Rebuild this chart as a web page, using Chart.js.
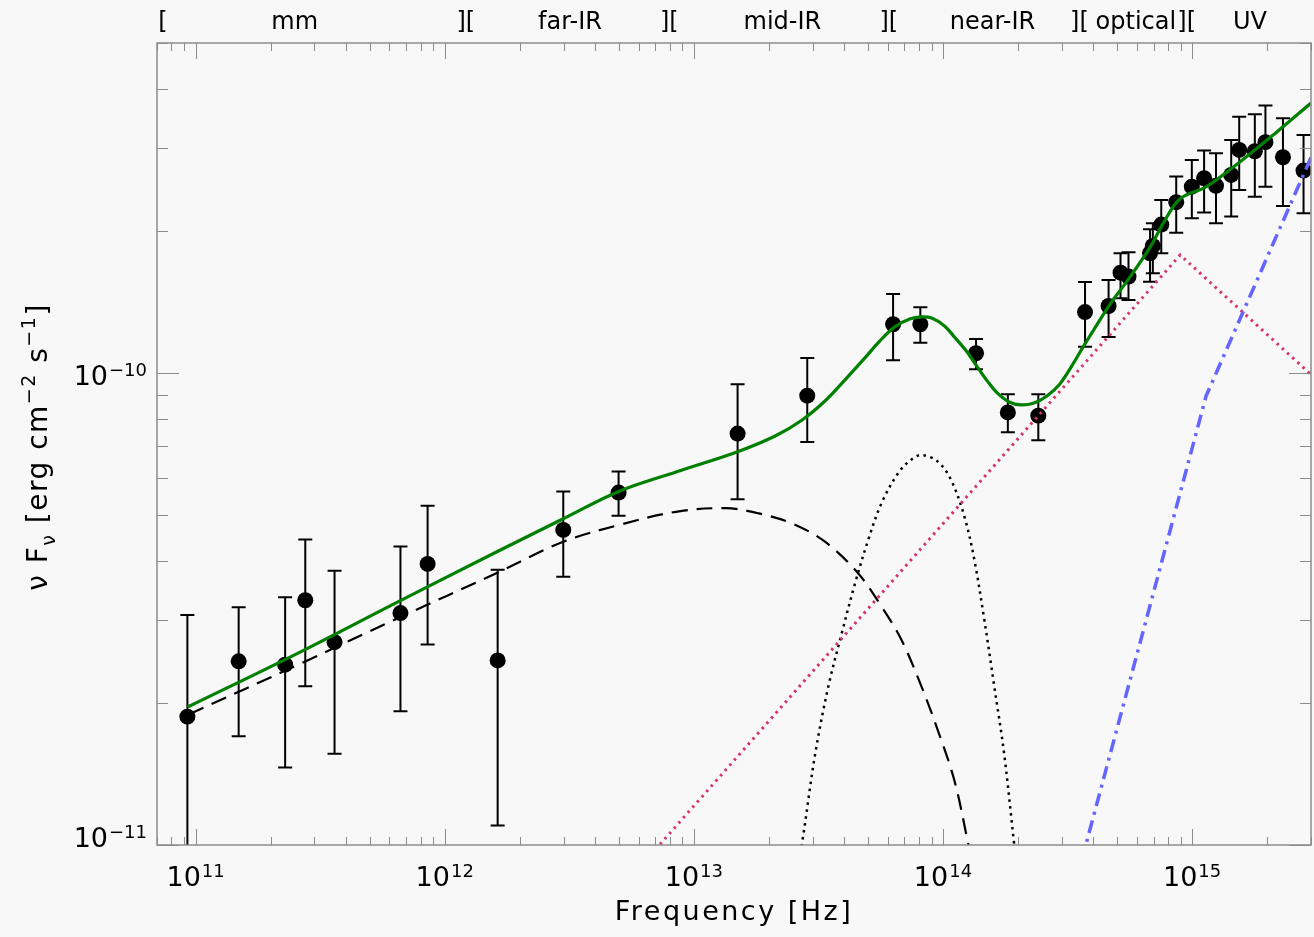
<!DOCTYPE html>
<html>
<head>
<meta charset="utf-8">
<script src="https://cdn.jsdelivr.net/npm/chart.js@4.4.1/dist/chart.umd.min.js"></script>
<style>
  html, body { margin:0; padding:0; background:#f8f8f8; }
  #wrap { width:1314px; height:937px; overflow:hidden; position:relative; }
  canvas { display:block; }
</style>
</head>
<body>
<div id="wrap"><canvas id="sed" width="1319" height="937"></canvas></div>
<script>
// ---------------- data ----------------

// observed SED points
const freq = [9.27e10, 1.489e11, 2.288e11, 2.756e11, 3.612e11, 6.642e11, 8.537e11, 1.631e12,
  2.991e12, 4.987e12, 1.498e13, 2.852e13, 6.305e13, 8.110e13, 1.357e14, 1.821e14, 2.413e14,
  3.716e14, 4.620e14, 5.159e14, 5.553e14, 6.777e14, 6.955e14, 7.518e14, 8.632e14, 9.972e14,
  1.117e15, 1.247e15, 1.435e15, 1.545e15, 1.785e15, 1.969e15, 2.315e15, 2.800e15];
const flux = [1.87e-11, 2.45e-11, 2.41e-11, 3.30e-11, 2.69e-11, 3.10e-11, 3.94e-11, 2.46e-11,
  4.65e-11, 5.58e-11, 7.44e-11, 8.95e-11, 1.268e-10, 1.268e-10, 1.101e-10, 8.25e-11, 8.12e-11,
  1.346e-10, 1.386e-10, 1.631e-10, 1.600e-10, 1.793e-10, 1.858e-10, 2.062e-10, 2.300e-10, 2.481e-10,
  2.585e-10, 2.492e-10, 2.627e-10, 2.968e-10, 2.949e-10, 3.082e-10, 2.864e-10, 2.683e-10];
const fluxHi = [3.07e-11, 3.19e-11, 3.35e-11, 4.44e-11, 3.81e-11, 4.29e-11, 5.23e-11, 3.83e-11,
  5.61e-11, 6.18e-11, 9.46e-11, 1.076e-10, 1.47e-10, 1.378e-10, 1.180e-10, 9.01e-11, 9.01e-11,
  1.559e-10, 1.574e-10, 1.793e-10, 1.802e-10, 2.016e-10, 2.076e-10, 2.326e-10, 2.606e-10, 2.827e-10,
  2.958e-10, 2.921e-10, 3.116e-10, 3.491e-10, 3.533e-10, 3.684e-10, 3.464e-10, 3.193e-10];
const fluxLo = [6.0e-12, 1.70e-11, 1.46e-11, 2.17e-11, 1.56e-11, 1.92e-11, 2.66e-11, 1.10e-11,
  3.70e-11, 4.98e-11, 5.40e-11, 7.14e-11, 1.064e-10, 1.159e-10, 1.018e-10, 7.49e-11, 7.20e-11,
  1.137e-10, 1.192e-10, 1.440e-10, 1.428e-10, 1.561e-10, 1.626e-10, 1.793e-10, 1.982e-10, 2.128e-10,
  2.186e-10, 2.076e-10, 2.144e-10, 2.442e-10, 2.363e-10, 2.481e-10, 2.259e-10, 2.179e-10];

// total model (green)
const modelFreq = [9.29e10, 2.58e11, 6.46e11, 1.62e12, 2.99e12, 4.99e12, 8.48e12, 1.50e13, 2.13e13,
  2.72e13, 3.36e13, 4.044e13, 4.86e13, 5.58e13, 6.40e13, 7.35e13, 8.21e13, 9.00e13, 1.014e14, 1.111e14,
  1.241e14, 1.373e14, 1.505e14, 1.651e14, 1.843e14, 2.058e14, 2.319e14, 2.614e14, 2.945e14, 3.289e14,
  3.672e14, 4.025e14, 4.707e14, 5.452e14, 6.797e14, 7.659e14, 8.930e14, 1.141e15, 1.555e15, 2.165e15, 3.0e15];
const modelFlux = [1.96e-11, 2.55e-11, 3.27e-11, 4.18e-11, 4.91e-11, 5.61e-11, 6.17e-11, 6.81e-11, 7.36e-11,
  7.95e-11, 8.72e-11, 9.67e-11, 1.076e-10, 1.169e-10, 1.252e-10, 1.301e-10, 1.314e-10, 1.307e-10, 1.258e-10, 1.192e-10,
  1.113e-10, 1.030e-10, 9.62e-11, 9.07e-11, 8.68e-11, 8.56e-11, 8.64e-11, 8.94e-11, 9.48e-11, 1.035e-10,
  1.141e-10, 1.233e-10, 1.404e-10, 1.559e-10, 1.849e-10, 2.076e-10, 2.337e-10, 2.481e-10, 2.799e-10, 3.225e-10, 3.73e-10];

// black dashed component
const dustFreq = [9.38e10, 2.58e11, 6.46e11, 1.62e12, 2.99e12, 4.99e12, 8.48e12, 1.342e13, 1.823e13, 2.477e13,
  3.36e13, 4.570e13, 5.667e13, 6.809e13, 8.185e13, 9.533e13, 1.111e14, 1.256e14, 1.288e14];
const dustFlux = [1.89e-11, 2.41e-11, 3.02e-11, 3.77e-11, 4.39e-11, 4.76e-11, 5.08e-11, 5.17e-11, 5.04e-11, 4.80e-11,
  4.39e-11, 3.76e-11, 3.20e-11, 2.72e-11, 2.17e-11, 1.75e-11, 1.37e-11, 1.02e-11, 9.52e-12];

// black dotted bump
const bumpFreq = [2.626e13, 2.717e13, 3.069e13, 3.468e13, 3.924e13, 4.434e13, 5.011e13, 5.667e13, 6.601e13, 7.419e13,
  8.209e13, 9.533e13, 1.078e14, 1.219e14, 1.336e14, 1.465e14, 1.606e14, 1.760e14, 1.929e14, 1.965e14];
const bumpFlux = [9.29e-12, 1.008e-11, 1.56e-11, 2.17e-11, 2.81e-11, 3.58e-11, 4.43e-11, 5.30e-11, 6.13e-11, 6.54e-11,
  6.70e-11, 6.49e-11, 5.93e-11, 4.96e-11, 4.02e-11, 3.00e-11, 2.17e-11, 1.56e-11, 1.008e-11, 9.29e-12];

// red dotted broken power law
const plFreq = [6.432e12, 8.955e14, 3.0e15];
const plFlux = [9.29e-12, 1.778e-10, 9.92e-11];

// blue dash-dot component
const uvFreq = [3.605e14, 6.374e14, 1.138e15, 3.0e15];
const uvFlux = [9.29e-12, 2.85e-11, 8.94e-11, 2.86e-10];

// axis labels
const xExponents = ["11", "12", "13", "14", "15"];
const yExponents = ["−11", "−10"];
const bandNames = ["[", "mm", "][", "far-IR", "][", "mid-IR", "][", "near-IR", "][", "optical", "][", "UV"];
const bandFreq = [7.4e10, 2.50e11, 1.215e12, 3.185e12, 7.97e12, 2.266e13, 6.06e13, 1.580e14, 3.53e14, 5.945e14, 9.51e14, 1.707e15];


// ---------------- helpers ----------------

function pts(xs, ys){
    return xs.map((x,i)=>({x:x, y:ys[i]}));
}

const FONT = "'DejaVu Sans', sans-serif";

function drawPow(ctx, base, exp, x, y, align){
    ctx.font = "27px " + FONT;
    const wb = ctx.measureText(base).width;
    ctx.font = "18px " + FONT;
    const we = ctx.measureText(exp).width;
    const total = wb + 1 + we;
    let x0 = align === "right" ? x - total : x - total/2;
    ctx.textAlign = "left";
    ctx.font = "27px " + FONT;
    ctx.fillText(base, x0, y);
    ctx.font = "18px " + FONT;
    ctx.fillText(exp, x0 + wb + 1, y - 9);
}


// ---------------- frame / ticks / labels ----------------

const idlAxes = {
    id: "idlAxes",

    beforeDatasetsDraw(chart){
        const ctx = chart.ctx, xs = chart.scales.x, ys = chart.scales.y, a = chart.chartArea;
        ctx.save();
        ctx.beginPath();
        ctx.rect(a.left, a.top, a.right - a.left, a.bottom - a.top);
        ctx.clip();
        ctx.strokeStyle = "#000";
        ctx.lineWidth = 2;
        freq.forEach((f,i)=>{
            const px = xs.getPixelForValue(f);
            const yh = ys.getPixelForValue(fluxHi[i]);
            const yl = ys.getPixelForValue(fluxLo[i]);
            ctx.beginPath();
            ctx.moveTo(px, yh); ctx.lineTo(px, yl);
            ctx.moveTo(px-7, yh); ctx.lineTo(px+7, yh);
            ctx.moveTo(px-7, yl); ctx.lineTo(px+7, yl);
            ctx.stroke();
        });
        ctx.restore();
    },

    afterDraw(chart){
        const ctx = chart.ctx, xs = chart.scales.x, ys = chart.scales.y, a = chart.chartArea;
        ctx.save();

        // box
        ctx.strokeStyle = "#8c8c8c";
        ctx.lineWidth = 1.5;
        ctx.strokeRect(a.left, a.top, a.right - a.left, a.bottom - a.top);

        // ticks pointing inwards
        ctx.lineWidth = 1;
        ctx.beginPath();
        for(let e=10; e<=15; e++){
            for(let m=1; m<=9; m++){
                const v = m * Math.pow(10, e);
                if(v < xs.min || v > xs.max) continue;
                const px = Math.round(xs.getPixelForValue(v)) + 0.5;
                const len = m === 1 ? 16 : 8;
                ctx.moveTo(px, a.bottom); ctx.lineTo(px, a.bottom - len);
                ctx.moveTo(px, a.top); ctx.lineTo(px, a.top + len);
            }
        }
        for(let e=-12; e<=-10; e++){
            for(let m=1; m<=9; m++){
                const v = m * Math.pow(10, e);
                if(v < ys.min*0.999 || v > ys.max*1.001) continue;
                const py = Math.round(ys.getPixelForValue(v)) + 0.5;
                const len = m === 1 ? 22 : 11;
                ctx.moveTo(a.left, py); ctx.lineTo(a.left + len, py);
                ctx.moveTo(a.right, py); ctx.lineTo(a.right - len, py);
            }
        }
        ctx.stroke();

        ctx.fillStyle = "#000";
        ctx.textBaseline = "alphabetic";

        // x tick labels
        xExponents.forEach(ex=>{
            const px = xs.getPixelForValue(Math.pow(10, Number(ex)));
            drawPow(ctx, "10", ex, px, 886, "center");
        });

        // y tick labels
        yExponents.forEach(ex=>{
            const py = ys.getPixelForValue(Math.pow(10, Number(ex.replace("−","-"))));
            drawPow(ctx, "10", ex, 147, Math.min(py + 12, a.bottom + 2), "right");
        });

        // x title
        ctx.font = "27px " + FONT;
        ctx.letterSpacing = "2.5px";
        ctx.textAlign = "center";
        ctx.fillText("Frequency [Hz]", (a.left + a.right)/2, 920);
        ctx.letterSpacing = "0px";

        // y title, rotated
        ctx.save();
        ctx.translate(47, 447);
        ctx.rotate(-Math.PI/2);
        const parts = [
            {t:"ν F", s:28, dy:0},
            {t:"ν", s:19, dy:8},
            {t:" [erg cm", s:28, dy:0},
            {t:"−2", s:19, dy:-12},
            {t:" s", s:28, dy:0},
            {t:"−1", s:19, dy:-12},
            {t:"]", s:28, dy:0}
        ];
        ctx.letterSpacing = "1.5px";
        let total = 0;
        parts.forEach(p=>{ ctx.font = p.s + "px " + FONT; p.w = ctx.measureText(p.t).width; total += p.w; });
        let cx = -total/2;
        ctx.textAlign = "left";
        parts.forEach(p=>{
            ctx.font = p.s + "px " + FONT;
            ctx.fillText(p.t, cx, p.dy);
            cx += p.w;
        });
        ctx.restore();
        ctx.letterSpacing = "0px";

        // band labels along the top
        ctx.font = "24px " + FONT;
        ctx.textAlign = "center";
        bandNames.forEach((b,i)=>{
            ctx.fillText(b, xs.getPixelForValue(bandFreq[i]), 29);
        });

        ctx.restore();
    }
};


// ---------------- chart ----------------

new Chart(document.getElementById("sed"), {
    type: "line",
    data: {
        datasets: [
            {
                data: pts(freq, flux),
                showLine: false,
                pointRadius: 8,
                pointBackgroundColor: "#000",
                pointBorderWidth: 0,
                order: 10
            },
            {
                data: pts(dustFreq, dustFlux),
                borderColor: "#000",
                borderWidth: 2.2,
                borderDash: [16, 9],
                pointRadius: 0,
                tension: 0.35,
                clip: 0,
                order: 4
            },
            {
                data: pts(bumpFreq, bumpFlux),
                borderColor: "#000",
                borderWidth: 2.5,
                borderDash: [2.5, 4.5],
                pointRadius: 0,
                tension: 0.35,
                clip: 0,
                order: 3
            },
            {
                data: pts(plFreq, plFlux),
                borderColor: "#d6336c",
                borderWidth: 3,
                borderDash: [2.5, 4.5],
                pointRadius: 0,
                tension: 0,
                clip: 0,
                order: 2
            },
            {
                data: pts(uvFreq, uvFlux),
                borderColor: "#6464ff",
                borderWidth: 3.5,
                borderDash: [13, 6, 3, 6],
                pointRadius: 0,
                tension: 0,
                clip: 0,
                order: 1
            },
            {
                data: pts(modelFreq, modelFlux),
                borderColor: "rgb(0,128,0)",
                borderWidth: 3.2,
                pointRadius: 0,
                tension: 0.35,
                clip: 0,
                order: 0
            }
        ]
    },
    options: {
        responsive: false,
        animation: false,
        layout: { padding: { left: 157, top: 43, right: 0, bottom: 92 } },
        plugins: { legend: { display: false }, tooltip: { enabled: false } },
        scales: {
            x: { type: "logarithmic", min: 7e10, max: 3e15, display: false },
            y: { type: "logarithmic", min: 1e-11, max: 5e-10, display: false }
        }
    },
    plugins: [idlAxes]
});
</script>
</body>
</html>
